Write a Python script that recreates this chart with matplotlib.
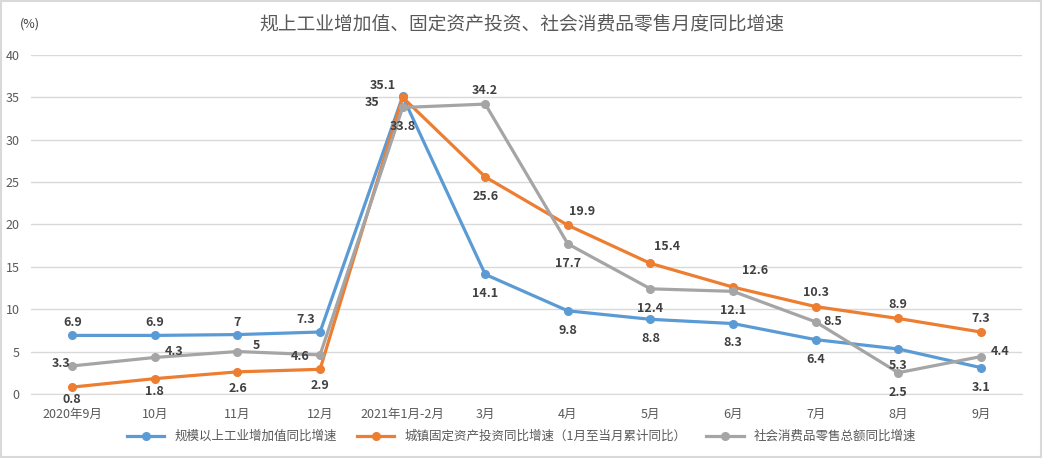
import matplotlib
matplotlib.use('Agg')
import matplotlib.pyplot as plt

plt.rcParams['font.family'] = ['Noto Sans CJK SC', 'DejaVu Sans']

# data
months = ['2020年9月', '10月', '11月', '12月', '2021年1月-2月', '3月',
          '4月', '5月', '6月', '7月', '8月', '9月']
industry = [6.9, 6.9, 7, 7.3, 35.1, 14.1, 9.8, 8.8, 8.3, 6.4, 5.3, 3.1]
investment = [0.8, 1.8, 2.6, 2.9, 35, 25.6, 19.9, 15.4, 12.6, 10.3, 8.9, 7.3]
retail = [3.3, 4.3, 5, 4.6, 33.8, 34.2, 17.7, 12.4, 12.1, 8.5, 2.5, 4.4]

names = ['规模以上工业增加值同比增速',
         '城镇固定资产投资同比增速（1月至当月累计同比）',
         '社会消费品零售总额同比增速']
colors = ['#5B9BD5', '#ED7D31', '#A5A5A5']

# label offsets in points (dx, dy)
off_ind = [(0, 9), (0, 9), (0, 9), (-10, 9), (-14, 8), (0, -14),
           (0, -14), (0, -14), (0, -14), (0, -14), (0, -12), (0, -14)]
off_inv = [(0, -9), (0, -9), (0, -12), (0, -12), (-22, -4), (0, -14),
           (10, 10), (12, 12), (16, 12), (0, 10), (0, 10), (0, 10)]
off_ret = [(-8, 2), (14, 4), (14, 4), (-14, -1), (0, -14), (0, 10),
           (0, -14), (0, -14), (0, -14), (12, 0), (0, -14), (14, 4)]

fig = plt.figure(figsize=(10.43, 4.58), dpi=100)
ax = fig.add_axes([0.0297, 0.14, 0.9503, 0.74])

x = list(range(len(months)))
series = [(industry, off_ind), (investment, off_inv), (retail, off_ret)]
for (vals, offs), c, n in zip(series, colors, names):
    ax.plot(x, vals, color=c, lw=2.3, marker='o', ms=5.5, label=n, zorder=3)
    for xi, v, (dx, dy) in zip(x, vals, offs):
        ax.annotate(f'{v:g}', (xi, v), xytext=(dx, dy), textcoords='offset points',
                    ha='center', va='center', fontsize=9, fontweight='bold',
                    color='#404040', zorder=5)

ax.set_xlim(-0.5, len(months) - 0.5)
ax.set_ylim(0, 40)
ax.set_yticks(range(0, 41, 5))
ax.set_xticks(x)
ax.set_xticklabels(months)
ax.tick_params(axis='both', length=0, labelsize=9, colors='#595959')
ax.tick_params(axis='x', pad=10)
ax.tick_params(axis='y', pad=8)
ax.grid(axis='y', color='#D9D9D9', lw=1)
ax.set_axisbelow(True)
for s in ax.spines.values():
    s.set_visible(False)
ax.spines['bottom'].set_visible(True)
ax.spines['bottom'].set_color('#D9D9D9')

fig.text(0.5, 0.948, '规上工业增加值、固定资产投资、社会消费品零售月度同比增速',
         ha='center', va='center', fontsize=13.5, color='#595959')
fig.text(0.019, 0.948, '(%)', ha='left', va='center', fontsize=9, color='#404040')

fig.legend(loc='center', bbox_to_anchor=(0.5, 0.047), ncol=3, frameon=False,
           fontsize=9, handlelength=3, columnspacing=1.6, labelcolor='#595959')

fig.patches.append(plt.Rectangle((0.001, 0.002), 0.997, 0.995, transform=fig.transFigure,
                                 fill=False, ec='#D9D9D9', lw=1.5))

fig.savefig('out.png', dpi=100)
